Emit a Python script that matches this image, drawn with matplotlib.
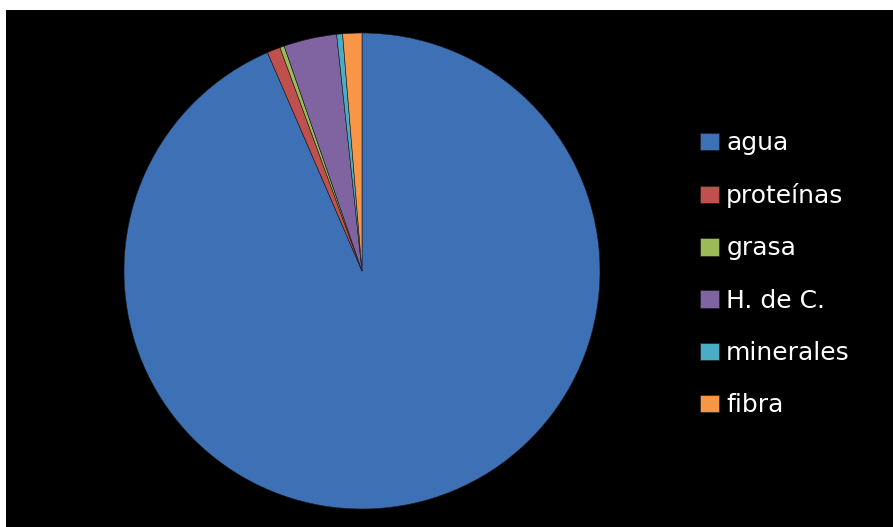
import matplotlib
matplotlib.use('Agg')
import matplotlib.pyplot as plt

# composicion (%)
labels = ['agua', 'proteínas', 'grasa', 'H. de C.', 'minerales', 'fibra']
values = [93.5, 0.9, 0.3, 3.6, 0.4, 1.3]
colors = ['#3d70b5', '#c0504d', '#9bbb59', '#8064a2', '#4bacc6', '#f79646']

fig = plt.figure(figsize=(8.93, 5.27), dpi=100, facecolor='white')

# fondo negro (con margen blanco arriba e izquierda)
bg = fig.add_axes([6/893, 0, 887/893, 517/527])
bg.set_facecolor('black')
bg.set_xticks([])
bg.set_yticks([])
for s in bg.spines.values():
    s.set_visible(False)

ax = fig.add_axes([124/893, 18/527, 476/893, 476/527])
ax.set_facecolor('none')
wedges, _ = ax.pie(values, colors=colors, startangle=90, counterclock=False,
                   radius=1.0,
                   wedgeprops=dict(edgecolor='#1a1a1a', linewidth=0.4))
ax.set_xlim(-1.0, 1.0)
ax.set_ylim(-1.0, 1.0)
ax.set_aspect('equal')
ax.axis('off')

leg = fig.legend(wedges, labels, loc='upper left',
                 bbox_to_anchor=(690/893, 1 - 121/527),
                 frameon=False, fontsize=18, labelcolor='white',
                 handlelength=0.75, handleheight=0.7, handletextpad=0.3,
                 labelspacing=1.13, borderaxespad=0)

plt.savefig('out.png', dpi=100, facecolor=fig.get_facecolor())
